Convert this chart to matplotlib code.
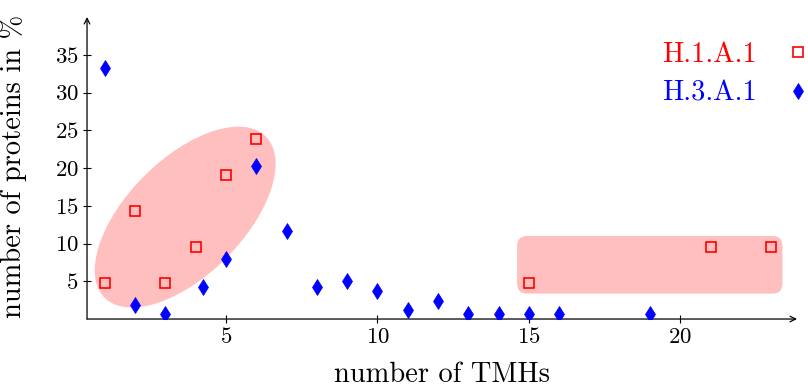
import numpy as np
import matplotlib
matplotlib.use("Agg")
import matplotlib.pyplot as plt
from matplotlib.patches import Ellipse, FancyBboxPatch
from matplotlib.transforms import ScaledTranslation

plt.rcParams['font.family'] = ['cmr10', 'DejaVu Serif']
plt.rcParams['mathtext.fontset'] = 'cm'
plt.rcParams['axes.formatter.use_mathtext'] = True

# share of proteins (%) per number of transmembrane helices
h1_tmh = [1, 2, 3, 4, 5, 6, 15, 21, 23]
h1_pct = [4.76, 14.29, 4.76, 9.52, 19.05, 23.81, 4.76, 9.52, 9.52]

h3_tmh = [1, 2, 3, 4.25, 5, 6, 7, 8, 9, 10, 11, 12, 13, 14, 15, 16, 19]
h3_pct = [33.3, 1.8, 0.6, 4.24, 7.95, 20.3, 11.7, 4.24, 5.0, 3.7, 1.24,
          2.4, 0.6, 0.6, 0.6, 0.6, 0.6]

xticks = [5, 10, 15, 20]
yticks = [5, 10, 15, 20, 25, 30, 35]

RED = '#ff0000'
BLUE = '#0000ff'
PINK = '#ffbfbf'

fig = plt.figure(figsize=(8.08, 3.9), dpi=100)
ax = fig.add_axes([0.1077, 0.182, 0.8787, 0.7744])
ax.set_xlim(0.41, 23.85)
ax.set_ylim(0, 40)

for s in ax.spines.values():
    s.set_visible(False)
# axis lines with open arrow heads
ax.annotate('', xy=(1.0, 0), xytext=(0, 0), xycoords='axes fraction',
            arrowprops=dict(arrowstyle='->', lw=0.9, color='black',
                            shrinkA=0, shrinkB=0))
ax.annotate('', xy=(0, 1.0), xytext=(0, 0), xycoords='axes fraction',
            arrowprops=dict(arrowstyle='->', lw=0.9, color='black',
                            shrinkA=0, shrinkB=0))

# highlight regions
ell = Ellipse((0, 0), 2.28, 1.16, angle=45, facecolor=PINK, edgecolor='none',
              transform=fig.dpi_scale_trans + ScaledTranslation(3.65, 13.5, ax.transData),
              zorder=1)
ax.add_patch(ell)
box = FancyBboxPatch((14.61, 3.36), 23.37 - 14.61, 11.0 - 3.36,
                     boxstyle='round,pad=0,rounding_size=0.33', mutation_aspect=4.0,
                     facecolor=PINK, edgecolor='none', zorder=1)
ax.add_patch(box)

ax.plot(h1_tmh, h1_pct, ls='none', marker='s', ms=7.5, mfc='none', mec=RED,
        mew=1.2, label='H.1.A.1', zorder=3)
ax.plot(h3_tmh, h3_pct, ls='none', marker='d', ms=8.2, mfc=BLUE, mec=BLUE,
        mew=0.5, label='H.3.A.1', zorder=3)

ax.set_xticks(xticks)
ax.set_yticks(yticks)
ax.tick_params(direction='inout', length=6, width=0.8, labelsize=16.5, pad=3)
ax.set_xlabel('number of TMHs', fontsize=20.5, labelpad=10)
ax.set_ylabel('number of proteins in %', fontsize=20.5)
ax.yaxis.set_label_coords(-0.085, 0.505)

leg = ax.legend(loc='upper right', bbox_to_anchor=(1.034, 0.955), frameon=False,
                markerfirst=False, fontsize=20.5,
                handlelength=0.8, handletextpad=1.05, labelspacing=0.42,
                borderaxespad=0)
for txt, col in zip(leg.get_texts(), [RED, BLUE]):
    txt.set_color(col)

fig.savefig('out.png', dpi=100)
